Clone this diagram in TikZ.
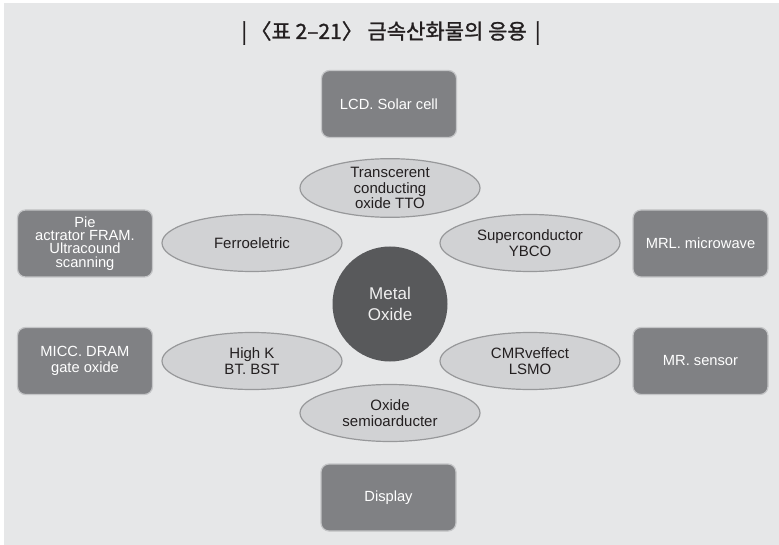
\documentclass[tikz,border=0pt]{standalone}
\usepackage{fontspec}
\setmainfont{Liberation Sans}
\newfontfamily\krfont[FakeBold=1.3]{Noto Sans CJK KR}
\usetikzlibrary{shapes.geometric}
\definecolor{bg}{HTML}{E6E7E8}
\definecolor{boxfill}{HTML}{808184}
\definecolor{boxline}{HTML}{C4C5C7}
\definecolor{ellfill}{HTML}{D1D2D4}
\definecolor{ellline}{HTML}{97989A}
\definecolor{circfill}{HTML}{58595B}
\definecolor{txt}{HTML}{231F20}
\tikzset{
  appbox/.style={draw=boxline, line width=1.2pt, fill=boxfill, rounded corners=8pt,
    minimum width=135pt, minimum height=67pt, text=white, align=center,
    font=\fontsize{14.7}{15.5}\selectfont, inner sep=2pt},
  fieldell/.style={ellipse, draw=ellline, line width=1.2pt, fill=ellfill,
    minimum width=180pt, minimum height=57pt, inner sep=0pt, text=txt, align=center,
    font=\fontsize{15}{15.5}\selectfont},
  core/.style={circle, fill=circfill, minimum size=115pt, inner sep=0pt,
    text=white!94!black, align=center, font=\fontsize{17}{21}\selectfont}
}
\begin{document}
\begin{tikzpicture}[x=1pt,y=-1pt]
\useasboundingbox (0,0) rectangle (779,545);
\fill[white] (0,0) rectangle (779,545);
\fill[bg] (4,3) rectangle (779,545);
\node[font=\krfont\fontsize{21}{24}\selectfont, text=txt] (title) at (391,33) {|\,〈표 2–21〉 금속산화물의 응용 \,|};
% center
\node[core] (mo) at (390,304) {Metal\\Oxide};
% ellipses
\node[fieldell] (tto) at (390,188) {Transcerent\\conducting\\oxide TTO};
\node[fieldell] (fe) at (252,243) {Ferroeletric};
\node[fieldell] (sc) at (530,243) {Superconductor\\YBCO};
\node[fieldell] (hk) at (252,361) {High K\\BT. BST};
\node[fieldell] (cmr) at (530,361) {CMRveffect\\LSMO};
\node[fieldell] (os) at (390,413) {Oxide\\semioarducter};
% boxes
\node[appbox] (lcd) at (389,104) {LCD. Solar cell};
\node[appbox, font=\fontsize{14.7}{13.3}\selectfont] (pie) at (85,243.5) {Pie\\actrator FRAM.\\Ultracound\\scanning};
\node[appbox] (mrl) at (700.5,243.5) {MRL. microwave};
\node[appbox] (micc) at (85,361) {MICC. DRAM\\gate oxide};
\node[appbox] (mrs) at (700.5,361) {MR. sensor};
\node[appbox] (disp) at (388.5,497.5) {Display};
\end{tikzpicture}
\end{document}
